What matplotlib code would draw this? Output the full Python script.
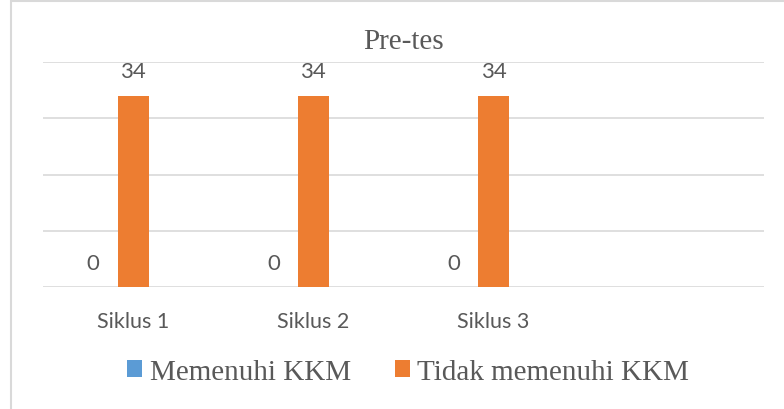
import matplotlib
matplotlib.use("Agg")
import matplotlib.pyplot as plt
from matplotlib.patches import Rectangle, Patch
import numpy as np

# data
categories = ["Siklus 1", "Siklus 2", "Siklus 3", ""]
memenuhi = [0, 0, 0]
tidak_memenuhi = [34, 34, 34]
series_names = ["Memenuhi KKM", "Tidak memenuhi KKM"]
title = "Pre-tes"

blue = "#5b9bd5"
orange = "#ed7d31"
grid_c = "#d9d9d9"
text_c = "#595959"
sans = ["Lato", "DejaVu Sans"]
serif = ["Liberation Serif", "DejaVu Serif"]

fig = plt.figure(figsize=(7.84, 4.10), dpi=100)
ax = fig.add_axes([43 / 784, 1 - 288 / 410, 721 / 784, 225 / 410])

x = np.arange(len(categories))
w = 0.172
xb = x[:len(memenuhi)] - 0.222
xo = x[:len(tidak_memenuhi)]
ax.bar(xb, memenuhi, w, color=blue, zorder=3)
ax.bar(xo, tidak_memenuhi, w, color=orange, zorder=3)

# data labels above bars
for xs, vals in ((xb, memenuhi), (xo, tidak_memenuhi)):
    for xi, v in zip(xs, vals):
        ax.annotate(str(v), (xi, v), xytext=(0, 17.5), textcoords="offset points",
                    ha="center", va="center", fontsize=16, color=text_c, family=sans)

ax.set_xlim(-0.5, len(categories) - 0.5)
ax.set_ylim(0, 40)
ax.set_yticks([0, 10, 20, 30, 40])
ax.yaxis.grid(True, color=grid_c, linewidth=1.2, zorder=0)
ax.set_yticklabels([])
ax.tick_params(axis="y", length=0)
ax.set_xticks(x)
ax.set_xticklabels(categories, fontsize=15.5, color=text_c, family=sans)
ax.tick_params(axis="x", length=0, pad=17)
for s in ax.spines.values():
    s.set_visible(False)

fig.text(403 / 784, 1 - 49 / 410, title, ha="center", va="baseline",
         fontsize=21, color=text_c, family=serif)

handles = [Patch(facecolor=blue), Patch(facecolor=orange)]
fig.legend(handles, series_names, loc="center", bbox_to_anchor=(408 / 784, 1 - 373 / 410),
           ncol=2, frameon=False, handlelength=0.52, handleheight=0.52,
           handletextpad=0.25, columnspacing=1.5,
           prop={"family": serif, "size": 21}, labelcolor=text_c)

fig.patches.append(Rectangle((11 / 784, -0.1), 1.2, 1.1 - 2 / 410, transform=fig.transFigure,
                             fill=False, edgecolor=grid_c, linewidth=1.5))

fig.savefig("out.png", dpi=100)
